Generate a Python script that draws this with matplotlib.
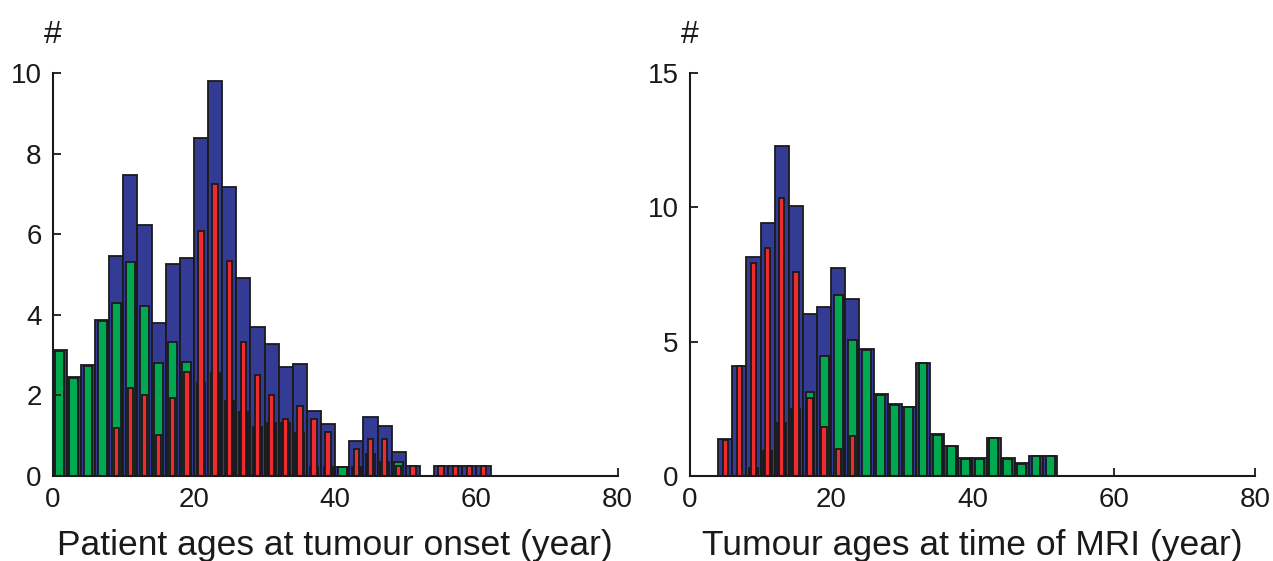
import numpy as np
import matplotlib
matplotlib.use("Agg")
import matplotlib.pyplot as plt

plt.rcParams['font.family'] = ['Liberation Sans', 'DejaVu Sans']

# 2-year bins
centers_onset = np.arange(1, 63, 2)
all_onset = [3.12, 2.46, 2.75, 3.86, 5.47, 7.47, 6.22, 3.80, 5.26, 5.42,
             8.38, 9.80, 7.18, 4.90, 3.70, 3.28, 2.71, 2.78, 1.62, 1.28,
             0.21, 0.87, 1.45, 1.24, 0.58, 0.25, 0.00, 0.25, 0.25, 0.25, 0.25]
green_onset = [3.11, 2.44, 2.73, 3.85, 4.30, 5.30, 4.22, 2.81, 3.33, 2.83,
               0, 0, 0, 0, 0, 0, 0, 0, 0, 0,
               0.21, 0, 0, 0, 0.33, 0, 0, 0, 0, 0, 0]
dark_onset = [0, 0, 0, 0, 0, 0, 0, 0, 0, 0,
              2.31, 2.56, 1.86, 1.59, 1.22, 1.30, 1.30, 1.05, 0.22, 0.21,
              0, 0.21, 0.54, 0.33, 0, 0, 0, 0, 0, 0, 0]
red_onset = [0, 0, 0, 0, 1.18, 2.17, 2.00, 1.01, 1.92, 2.58,
             6.08, 7.25, 5.34, 3.33, 2.50, 2.00, 1.41, 1.74, 1.41, 1.08,
             0, 0.66, 0.91, 0.91, 0.25, 0.25, 0, 0.25, 0.25, 0.25, 0.25]

centers_mri = np.arange(5, 53, 2)
all_mri = [1.36, 4.10, 8.16, 9.41, 12.29, 10.06, 6.03, 6.30, 7.73, 6.57,
           4.71, 3.03, 2.66, 2.57, 4.21, 1.54, 1.12, 0.65, 0.65, 1.42,
           0.65, 0.46, 0.75, 0.75]
green_mri = [0, 0, 0, 0, 0, 0, 3.11, 4.47, 6.73, 5.06,
             4.70, 3.02, 2.65, 2.56, 4.20, 1.53, 1.11, 0.64, 0.64, 1.41,
             0.64, 0.45, 0.74, 0.74]
dark_mri = [0, 0, 0.27, 0.92, 1.95, 2.49, 0, 0, 0, 0,
            0, 0, 0, 0, 0, 0, 0, 0, 0, 0,
            0, 0, 0, 0]
red_mri = [1.34, 4.09, 7.91, 8.50, 10.34, 7.58, 2.91, 1.83, 0.99, 1.49,
           0, 0, 0, 0, 0, 0, 0, 0, 0, 0,
           0, 0, 0, 0]

BLUE = '#333b95'
GREEN = '#00a84f'
DARK = '#262d55'
RED = '#ee2b2e'
INK = '#1a1a1a'


def draw_panel(ax, x, total, green, dark, red, ymax, yticks, xlabel):
    kw = dict(edgecolor=INK, linewidth=1.3)
    ax.bar(x, total, width=2.0, color=BLUE, **kw)
    ax.bar(x, dark, width=1.25, color=DARK, **kw)
    ax.bar(x, green, width=1.25, color=GREEN, **kw)
    ax.bar(x, red, width=0.75, color=RED, **kw)

    ax.set_xlim(0, 80)
    ax.set_ylim(0, ymax)
    ax.set_xticks([0, 20, 40, 60, 80])
    ax.set_yticks(yticks)
    for s in ['top', 'right']:
        ax.spines[s].set_visible(False)
    for s in ['left', 'bottom']:
        ax.spines[s].set_linewidth(1.5)
        ax.spines[s].set_color(INK)
    ax.tick_params(direction='in', length=6, width=1.3, labelsize=20,
                   pad=8, colors=INK)
    ax.set_xlabel(xlabel, fontsize=25.5, labelpad=11.5, color=INK)
    ax.text(0.0, 1.095, '#', transform=ax.transAxes, ha='center',
            va='center', fontsize=23, color=INK)


fig = plt.figure(figsize=(12.73, 5.61), dpi=100)
ax1 = fig.add_axes([0.0414, 0.152, 0.4438, 0.7175])
ax2 = fig.add_axes([0.542, 0.152, 0.4438, 0.7175])

draw_panel(ax1, centers_onset, all_onset, green_onset, dark_onset, red_onset,
           10, [0, 2, 4, 6, 8, 10], 'Patient ages at tumour onset (year)')
draw_panel(ax2, centers_mri, all_mri, green_mri, dark_mri, red_mri,
           15, [0, 5, 10, 15], 'Tumour ages at time of MRI (year)')

fig.savefig('out.png', dpi=100)
